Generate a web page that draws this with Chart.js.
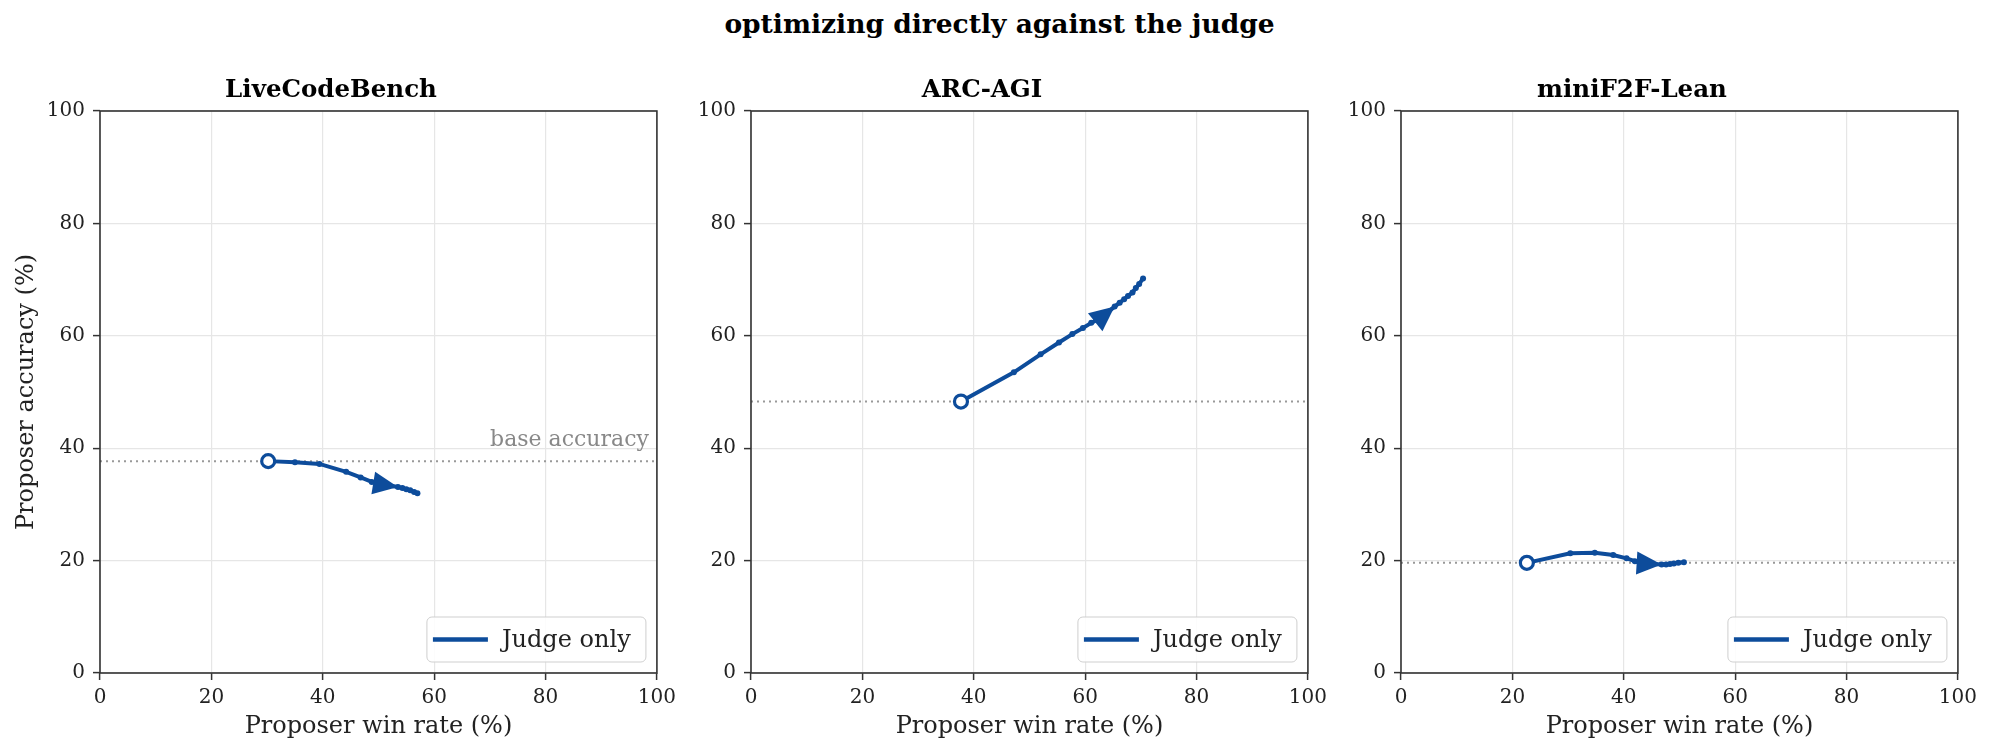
<!DOCTYPE html>
<html>
<head>
<meta charset="utf-8">
<script src="https://cdn.jsdelivr.net/npm/chart.js@4.4.0/dist/chart.umd.min.js"></script>
<style>
  html, body { margin: 0; padding: 0; background: #fff; }
  body { width: 1999px; height: 754px; position: relative; overflow: hidden; }
  #suptitle {
    position: absolute; left: 0; top: 9px; width: 1999px; text-align: center;
    font: bold 26.5px 'DejaVu Serif', serif; line-height: 30px; color: #000;
  }
  .panel { position: absolute; top: 0; width: 682px; height: 754px; }
</style>
</head>
<body>
<div id="suptitle">optimizing directly against the judge</div>
<div class="panel" style="left:0px"><canvas id="c0"></canvas></div>
<div class="panel" style="left:651px"><canvas id="c1"></canvas></div>
<div class="panel" style="left:1301px"><canvas id="c2"></canvas></div>
<script>
// values
const plotTitles = ['LiveCodeBench', 'ARC-AGI', 'miniF2F-Lean'];

const lcbWin = [30.2, 35.0, 39.4, 44.2, 46.8, 48.8, 51.0, 53.5, 54.3, 55.0, 55.7, 56.4, 57.0];
const lcbAcc = [37.7, 37.5, 37.2, 35.8, 34.8, 34.0, 33.5, 33.1, 32.9, 32.7, 32.5, 32.2, 32.0];

const arcWin = [37.7, 47.2, 52.0, 55.3, 57.7, 59.6, 61.1, 62.8, 65.3, 66.2, 67.0, 67.7, 68.5, 69.1, 69.7, 70.4];
const arcAcc = [48.3, 53.5, 56.7, 58.8, 60.3, 61.4, 62.3, 63.2, 65.2, 65.9, 66.5, 67.1, 67.7, 68.5, 69.2, 70.2];

const f2fWin = [22.6, 30.4, 34.8, 38.1, 40.5, 42.0, 43.4, 46.8, 47.6, 48.3, 49.0, 49.8, 50.8];
const f2fAcc = [19.6, 21.3, 21.4, 21.0, 20.4, 19.9, 19.5, 19.3, 19.3, 19.4, 19.5, 19.6, 19.7];

const baseAcc = [37.7, 48.3, 19.6];
const arrowAt = [7, 8, 7];   // index of the point the arrow head ends on
const seriesLabel = 'Judge only';
const baseLabel = 'base accuracy';

const BLUE = '#0d4c9b';
const FONT = "'DejaVu Serif', serif";

function pts(xs, ys) {
  return xs.map((v, i) => ({ x: v, y: ys[i] }));
}

// arrow head, frame box, legend, base accuracy note
const extras = {
  id: 'extras',
  afterDatasetsDraw(chart, args, opts) {
    const { ctx, scales: { x, y } } = chart;
    const d = chart.data.datasets[0].data;
    const i = opts.arrowAt;
    const x1 = x.getPixelForValue(d[i - 1].x), y1 = y.getPixelForValue(d[i - 1].y);
    const x2 = x.getPixelForValue(d[i].x), y2 = y.getPixelForValue(d[i].y);
    const ang = Math.atan2(y2 - y1, x2 - x1);
    ctx.save();
    ctx.translate(x2, y2);
    ctx.rotate(ang);
    ctx.beginPath();
    ctx.moveTo(0, 0);
    ctx.lineTo(-25, -11.5);
    ctx.lineTo(-25, 11.5);
    ctx.closePath();
    ctx.fillStyle = BLUE;
    ctx.fill();
    ctx.restore();
  },
  afterDraw(chart, args, opts) {
    const { ctx, chartArea: a, scales: { y } } = chart;
    ctx.save();
    // note above the dotted line
    if (opts.note) {
      ctx.font = '22px ' + FONT;
      ctx.fillStyle = '#888';
      ctx.textAlign = 'right';
      ctx.textBaseline = 'alphabetic';
      ctx.fillText(opts.note, a.right - 8, y.getPixelForValue(opts.base) - 15);
    }
    // frame
    ctx.strokeStyle = '#333';
    ctx.lineWidth = 1.6;
    ctx.strokeRect(a.left, a.top, a.right - a.left, a.bottom - a.top);
    // legend
    const w = 219, h = 45;
    const bx = a.right - 11 - w, by = a.bottom - 11 - h;
    ctx.beginPath();
    ctx.roundRect(bx, by, w, h, 5);
    ctx.fillStyle = 'rgba(255,255,255,0.85)';
    ctx.fill();
    ctx.strokeStyle = '#cfcfcf';
    ctx.lineWidth = 1;
    ctx.stroke();
    ctx.beginPath();
    ctx.moveTo(bx + 6, by + h / 2);
    ctx.lineTo(bx + 61, by + h / 2);
    ctx.strokeStyle = BLUE;
    ctx.lineWidth = 4.5;
    ctx.stroke();
    ctx.font = '24px ' + FONT;
    ctx.fillStyle = '#222';
    ctx.textAlign = 'left';
    ctx.textBaseline = 'middle';
    ctx.fillText(chart.data.datasets[0].label, bx + 75, by + h / 2 + 1);
    ctx.restore();
  }
};

const series = [pts(lcbWin, lcbAcc), pts(arcWin, arcAcc), pts(f2fWin, f2fAcc)];

series.forEach((data, k) => {
  new Chart(document.getElementById('c' + k), {
    type: 'scatter',
    data: {
      datasets: [
        {
          label: seriesLabel,
          data: data,
          showLine: true,
          borderColor: BLUE,
          borderWidth: 4,
          pointRadius: c => c.dataIndex === 0 ? 6.5 : 3,
          pointBackgroundColor: c => c.dataIndex === 0 ? '#fff' : BLUE,
          pointBorderColor: BLUE,
          pointBorderWidth: c => c.dataIndex === 0 ? 3.2 : 0
        },
        {
          label: 'base',
          data: [{ x: 0, y: baseAcc[k] }, { x: 100, y: baseAcc[k] }],
          showLine: true,
          borderColor: '#999',
          borderWidth: 2,
          borderDash: [2, 4],
          pointRadius: 0
        }
      ]
    },
    options: {
      responsive: true,
      maintainAspectRatio: false,
      animation: false,
      events: [],
      layout: { padding: { top: 0, right: 20, bottom: 0, left: 0 } },
      plugins: {
        legend: { display: false },
        tooltip: { enabled: false },
        title: {
          display: true,
          text: plotTitles[k],
          color: '#000',
          font: { family: FONT, size: 24.5, weight: 'bold', lineHeight: 1.2 },
          padding: { top: 76.3, bottom: 5.3 }
        },
        extras: { arrowAt: arrowAt[k], base: baseAcc[k], note: k === 0 ? baseLabel : '' }
      },
      scales: {
        x: {
          type: 'linear',
          min: 0, max: 100,
          afterFit: s => { s.height = 81; },
          border: { display: false },
          grid: { color: '#e6e6e6', lineWidth: 1.2, tickLength: 7, tickColor: '#333', tickWidth: 1.5 },
          ticks: { stepSize: 20, padding: 6, color: '#222', font: { family: FONT, size: 20 } },
          title: {
            display: true, text: 'Proposer win rate (%)', color: '#222',
            font: { family: FONT, size: 24, lineHeight: 1.2 },
            padding: { top: 0, bottom: 13 }
          }
        },
        y: {
          type: 'linear',
          min: 0, max: 100,
          afterFit: s => { s.width = 100; },
          border: { display: false },
          grid: { color: '#e6e6e6', lineWidth: 1.2, tickLength: 7, tickColor: '#333', tickWidth: 1.5 },
          ticks: { stepSize: 20, padding: 8, color: '#222', font: { family: FONT, size: 20 } },
          title: {
            display: k === 0, text: 'Proposer accuracy (%)', color: '#222',
            font: { family: FONT, size: 24, lineHeight: 1.2 },
            padding: { top: 12, bottom: 0 }
          }
        }
      }
    },
    plugins: [extras]
  });
});
</script>
</body>
</html>
